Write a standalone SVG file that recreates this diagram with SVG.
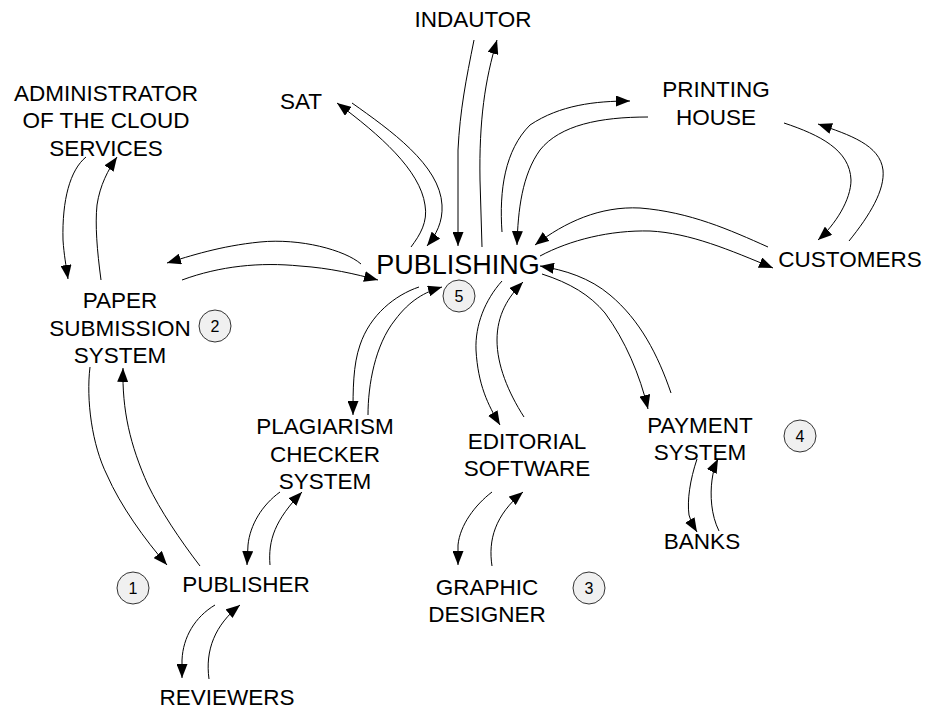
<svg xmlns="http://www.w3.org/2000/svg" width="925" height="711" viewBox="0 0 925 711">
<style>
.lbl{font-family:"Liberation Sans",Arial,sans-serif;font-size:22.5px;fill:#000;text-anchor:middle}
.big{font-size:27px}
.num{font-family:"Liberation Sans",Arial,sans-serif;font-size:16px;fill:#000;text-anchor:middle}
.badge{fill:#f0f0f0;stroke:#333;stroke-width:1}
.c{fill:none;stroke:#000;stroke-width:1;marker-end:url(#ah)}
</style>
<defs>
<marker id="ah" markerUnits="userSpaceOnUse" markerWidth="15" markerHeight="11" refX="14" refY="5.5" orient="auto">
<path d="M0,0 L14,5.5 L0,11 z" fill="#000"/>
</marker>
</defs>
<rect width="925" height="711" fill="#fff"/>
<g id="connectors">
<path class="c" d="M86,157 C70,170 62,200 63,240 C64,255 66,265 68,279"/>
<path class="c" d="M101,280 C97,250 95,225 97,205 C100,185 108,170 117,157"/>
<path class="c" d="M361,264 C345,250 300,238 260,242 C220,246 190,256 167,263"/>
<path class="c" d="M182,280 C220,266 260,262 300,266 C330,268 355,274 378,280"/>
<path class="c" d="M411,247 C420,235 428,222 425,205 C420,170 380,135 337,103"/>
<path class="c" d="M352,103 C390,130 440,165 442,205 C443,222 436,235 427,246"/>
<path class="c" d="M474,40 C466,80 460,110 458,150 L458,246"/>
<path class="c" d="M482,247 L480,180 C479,120 485,80 497,40"/>
<path class="c" d="M502,232 C499,190 505,150 530,125 C560,105 595,101 630,101"/>
<path class="c" d="M648,117 C600,117 560,125 540,150 C522,175 518,210 517,245"/>
<path class="c" d="M768,247 C730,230 690,212 640,208 C600,206 565,222 535,245"/>
<path class="c" d="M540,256 C570,240 610,230 650,231 C690,233 730,250 773,268"/>
<path class="c" d="M784,123 C820,135 850,150 851,180 C851,200 835,225 818,240"/>
<path class="c" d="M849,241 C870,215 885,190 883,170 C880,145 850,135 818,124"/>
<path class="c" d="M419,287 C395,295 370,315 360,345 C353,365 353,390 353,415"/>
<path class="c" d="M368,415 C368,385 375,345 395,320 C410,300 425,292 442,287"/>
<path class="c" d="M502,281 C485,300 475,325 476,350 C478,385 488,405 500,425"/>
<path class="c" d="M524,417 C508,392 497,365 497,340 C497,315 508,297 523,282"/>
<path class="c" d="M671,393 C658,355 640,320 610,295 C590,278 565,270 540,266"/>
<path class="c" d="M542,274 C570,283 590,295 605,313 C625,340 640,375 648,409"/>
<path class="c" d="M697,459 C690,480 687,500 689,515 C691,522 694,527 697,532"/>
<path class="c" d="M719,531 C711,515 710,495 712,480 C713,472 715,465 718,459"/>
<path class="c" d="M90,367 C86,400 92,445 107,475 C120,505 145,540 167,565"/>
<path class="c" d="M200,566 C180,540 160,510 148,485 C130,445 122,410 123,368"/>
<path class="c" d="M280,492 C262,505 250,525 248,545 L247,565"/>
<path class="c" d="M270,565 C268,540 275,520 302,492"/>
<path class="c" d="M215,605 C195,617 183,637 182,660 L182,678"/>
<path class="c" d="M209,679 C205,650 215,625 240,605"/>
<path class="c" d="M492,492 C475,505 460,525 458,545 L458,565"/>
<path class="c" d="M492,566 C488,540 495,515 523,492"/>
</g>
<g id="admin"><text class="lbl" x="106" y="101">ADMINISTRATOR</text><text class="lbl" x="106" y="128">OF THE CLOUD</text><text class="lbl" x="106" y="156">SERVICES</text></g>
<g id="sat"><text class="lbl" x="301" y="109">SAT</text></g>
<g id="indautor"><text class="lbl" x="473" y="27">INDAUTOR</text></g>
<g id="printing"><text class="lbl" x="716" y="97">PRINTING</text><text class="lbl" x="716" y="125">HOUSE</text></g>
<g id="customers"><text class="lbl" x="850" y="267">CUSTOMERS</text></g>
<g id="publishing"><text class="lbl big" x="458" y="274">PUBLISHING</text><circle class="badge" cx="459" cy="296" r="16"/><text class="num" x="459" y="302">5</text></g>
<g id="paper"><text class="lbl" x="120" y="308">PAPER</text><text class="lbl" x="120" y="336">SUBMISSION</text><text class="lbl" x="120" y="363">SYSTEM</text><circle class="badge" cx="215" cy="326" r="16"/><text class="num" x="215" y="332">2</text></g>
<g id="plagiarism"><text class="lbl" x="325" y="434">PLAGIARISM</text><text class="lbl" x="325" y="462">CHECKER</text><text class="lbl" x="325" y="489">SYSTEM</text></g>
<g id="editorial"><text class="lbl" x="527" y="449">EDITORIAL</text><text class="lbl" x="527" y="476">SOFTWARE</text></g>
<g id="payment"><text class="lbl" x="700" y="433">PAYMENT</text><text class="lbl" x="700" y="460">SYSTEM</text><circle class="badge" cx="800" cy="436" r="16"/><text class="num" x="800" y="442">4</text></g>
<g id="banks"><text class="lbl" x="702" y="549">BANKS</text></g>
<g id="publisher"><text class="lbl" x="246" y="592">PUBLISHER</text><circle class="badge" cx="133" cy="588" r="16"/><text class="num" x="133" y="594">1</text></g>
<g id="reviewers"><text class="lbl" x="227" y="705">REVIEWERS</text></g>
<g id="graphic"><text class="lbl" x="487" y="595">GRAPHIC</text><text class="lbl" x="487" y="622">DESIGNER</text><circle class="badge" cx="589" cy="588" r="16"/><text class="num" x="589" y="594">3</text></g>
</svg>
